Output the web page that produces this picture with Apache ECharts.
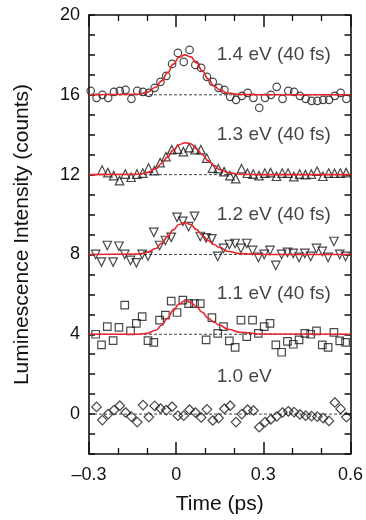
<!DOCTYPE html>
<html>
<head>
<meta charset="utf-8">
<script src="https://cdn.jsdelivr.net/npm/echarts@6/dist/echarts.min.js"></script>
<style>
html,body{margin:0;padding:0;background:#fff;}
#chart{width:366px;height:520px;}
</style>
</head>
<body>
<div id="chart"></div>
<script>
// ---- data ----
var time14 = [-0.294,-0.274,-0.254,-0.234,-0.214,-0.194,-0.174,-0.154,-0.134,-0.114,-0.094,-0.074,-0.054,-0.034,-0.014,0.006,0.026,0.046,0.066,0.086,0.106,0.126,0.146,0.166,0.186,0.206,0.226,0.246,0.266,0.286,0.306,0.326,0.346,0.366,0.386,0.406,0.426,0.446,0.466,0.486,0.506,0.526,0.546,0.566,0.586];
var lum14 = [16.2,15.85,16.0,15.85,16.15,16.2,16.25,15.8,16.2,16.15,16.1,16.35,16.65,16.95,17.55,18.1,17.65,18.25,17.5,17.35,16.9,16.65,16.35,16.25,15.9,15.75,15.95,16.1,15.85,15.35,15.85,16.0,16.4,15.8,16.2,16.15,15.95,15.8,15.7,15.7,15.75,15.75,15.95,16.1,15.8];

var time13 = [-0.255,-0.235,-0.215,-0.195,-0.175,-0.155,-0.135,-0.115,-0.095,-0.075,-0.055,-0.035,-0.015,0.005,0.025,0.045,0.065,0.085,0.105,0.125,0.145,0.165,0.185,0.205,0.225,0.245,0.265,0.285,0.305,0.325,0.345,0.365,0.385,0.405,0.425,0.445,0.465,0.485,0.505,0.525,0.545,0.565,0.585];
var lum13 = [12.23,12.1,11.95,11.7,12.03,11.87,12.03,12.08,12.33,12.2,12.6,12.9,13.25,13.28,13.15,13.35,13.25,13.25,12.83,12.33,12.3,12.15,11.95,11.8,12.3,12.07,12.03,11.95,12.08,12.1,11.92,12.08,12.08,11.9,12.03,12.0,12.03,12.17,11.92,12.08,12.07,12.08,12.1];

var time12 = [-0.277,-0.257,-0.237,-0.217,-0.197,-0.177,-0.157,-0.137,-0.117,-0.097,-0.077,-0.057,-0.037,-0.017,0.003,0.023,0.043,0.063,0.083,0.103,0.123,0.143,0.163,0.183,0.203,0.223,0.243,0.263,0.283,0.303,0.323,0.343,0.363,0.383,0.403,0.423,0.443,0.463,0.483,0.503,0.523,0.543,0.563,0.583];
var lum12 = [8.0,7.62,8.45,7.62,8.41,8.0,7.7,7.58,8.0,7.92,9.11,8.45,8.7,8.86,9.86,9.66,9.39,9.91,8.9,8.83,8.78,7.9,8.3,8.5,8.55,8.3,8.55,8.2,7.85,8.0,8.2,7.45,8.0,8.1,8.05,7.85,8.05,7.9,8.3,8.15,7.85,8.65,8.0,7.9];

var time11 = [-0.277,-0.257,-0.237,-0.217,-0.197,-0.177,-0.157,-0.137,-0.117,-0.097,-0.077,-0.057,-0.037,-0.017,0.003,0.023,0.043,0.063,0.083,0.103,0.123,0.143,0.163,0.183,0.203,0.223,0.243,0.263,0.283,0.303,0.323,0.343,0.363,0.383,0.403,0.423,0.443,0.463,0.483,0.503,0.523,0.543,0.563,0.583];
var lum11 = [4.0,3.47,4.38,3.68,4.35,5.46,4.17,4.55,4.88,3.68,3.59,4.71,4.96,5.66,5.09,5.71,5.54,5.54,5.54,3.72,4.83,4.05,4.38,3.67,3.34,4.71,3.88,4.71,4.05,4.38,4.55,3.47,3.1,3.64,3.5,3.72,4.05,4.0,4.17,3.47,3.34,4.1,3.67,3.59];

var time10 = [-0.274,-0.254,-0.234,-0.214,-0.194,-0.174,-0.154,-0.134,-0.114,-0.094,-0.074,-0.054,-0.034,-0.014,0.006,0.026,0.046,0.066,0.086,0.106,0.126,0.146,0.166,0.186,0.206,0.226,0.246,0.266,0.286,0.306,0.326,0.346,0.366,0.386,0.406,0.426,0.446,0.466,0.486,0.506,0.526,0.546,0.566,0.586];
var lum10 = [0.36,-0.3,0.0,0.2,0.42,0.08,-0.13,-0.4,0.45,-0.15,0.41,0.28,0.2,0.37,-0.08,-0.08,0.22,0.08,-0.17,0.24,-0.32,-0.2,0.27,0.42,-0.4,0.0,0.22,0.18,-0.66,-0.4,-0.26,-0.12,0.08,0.14,0.1,-0.02,-0.08,-0.1,-0.13,-0.2,-0.34,0.58,0.26,-0.15];

// fitted curves
var fitTime = [-0.3,-0.13,-0.1,-0.07,-0.05,-0.03,-0.01,0.01,0.03,0.05,0.07,0.09,0.11,0.13,0.15,0.18,0.22,0.3,0.6];
var fit14 = [16,16.03,16.12,16.38,16.7,17.1,17.54,17.88,18.0,17.9,17.6,17.2,16.8,16.45,16.25,16.08,16.02,16,16];
var fit13 = [12,12.02,12.1,12.3,12.56,12.88,13.23,13.5,13.6,13.55,13.3,13.0,12.7,12.45,12.25,12.1,12.02,12,12];
var fit12 = [8,8.02,8.1,8.3,8.56,8.88,9.23,9.5,9.6,9.5,9.25,8.95,8.7,8.5,8.35,8.15,8.04,8,8];
var fit11 = [4,4.0,4.05,4.2,4.45,4.8,5.2,5.52,5.68,5.6,5.38,5.1,4.8,4.6,4.45,4.25,4.1,4.01,4];

var baselines = [0, 4, 8, 12, 16];
var seriesNames = ['1.4 eV (40 fs)', '1.3 eV (40 fs)', '1.2 eV (40 fs)', '1.1 eV (40 fs)', '1.0 eV'];
var labelY = [18.0, 14.0, 10.0, 6.05, 1.85];
var labelX = 0.138;
var xTicks = [-0.3, 0, 0.3, 0.6];
var yTickLabels = [0, 4, 8, 12, 16, 20];

// ---- chart ----
function pairs(t, v) { return t.map(function (x, i) { return [x, v[i]]; }); }
var FONT = 'Liberation Sans, Arial, sans-serif';
var INK = '#111';

var markerStyle = { color: 'rgba(0,0,0,0)', borderColor: '#1a1a1a', borderWidth: 1.2 };
var series = [];

baselines.forEach(function (b) {
  series.push({
    type: 'line', data: [[xTicks[0], b], [xTicks[xTicks.length - 1], b]],
    symbol: 'none', silent: true, z: 1,
    lineStyle: { color: '#111', width: 0.8, type: [3, 2] }
  });
});

var marks = [
  { t: time14, v: lum14, sym: 'circle', size: 7.5, rot: 0 },
  { t: time13, v: lum13, sym: 'triangle', size: 8.5, rot: 0 },
  { t: time12, v: lum12, sym: 'triangle', size: 8.5, rot: 180 },
  { t: time11, v: lum11, sym: 'rect', size: 7.5, rot: 0 },
  { t: time10, v: lum10, sym: 'diamond', size: [9.5, 9.5], rot: 0 }
];
marks.forEach(function (m) {
  series.push({
    type: 'scatter', data: pairs(m.t, m.v), symbol: m.sym, symbolSize: m.size,
    symbolRotate: m.rot, itemStyle: markerStyle, z: 3, silent: true
  });
});

[fit14, fit13, fit12, fit11].forEach(function (f) {
  series.push({
    type: 'line', data: pairs(fitTime, f), symbol: 'none', smooth: 0.5,
    smoothMonotone: 'x', z: 4, silent: true,
    lineStyle: { color: '#e8262b', width: 1.6 }
  });
});

series.push({
  type: 'scatter', z: 5, silent: true, symbolSize: 1,
  itemStyle: { color: 'rgba(0,0,0,0)' },
  data: seriesNames.map(function (n, i) { return [labelX, labelY[i], n]; }),
  label: {
    show: true, position: 'right', distance: 0, align: 'left', verticalAlign: 'middle',
    fontSize: 19, fontFamily: FONT, color: INK,
    formatter: function (p) { return p.data[2]; }
  }
});

var axisLine = { show: true, onZero: false, lineStyle: { color: '#111', width: 1.6 } };
function xAx(pos, withLabels) {
  return {
    type: 'value', position: pos, min: xTicks[0], max: xTicks[xTicks.length - 1], interval: 0.3,
    axisLine: axisLine,
    axisTick: { show: true, inside: true, length: 12, lineStyle: { color: '#111', width: 1.5 } },
    minorTick: { show: true, splitNumber: 3, length: 6, lineStyle: { color: '#111', width: 1.3 } },
    splitLine: { show: false }, minorSplitLine: { show: false },
    axisLabel: {
      show: withLabels, fontSize: 18, fontFamily: FONT, color: INK, margin: 12,
      formatter: function (v) { return v < 0 ? '\u2013' + Math.abs(v) : String(v); }
    },
    name: withLabels ? 'Time (ps)' : '', nameLocation: 'middle', nameGap: 40,
    nameTextStyle: { fontSize: 21, fontFamily: FONT, color: INK }
  };
}
function yAx(pos, withLabels) {
  return {
    type: 'value', position: pos, min: -2, max: 20, interval: 1,
    axisLine: axisLine,
    axisTick: { show: true, inside: true, length: 6, lineStyle: { color: '#111', width: 1.5 } },
    splitLine: { show: false },
    axisLabel: {
      show: withLabels, fontSize: 18, fontFamily: FONT, color: INK, margin: 9,
      formatter: function (v) { return yTickLabels.indexOf(v) >= 0 ? String(v) : ''; }
    },
    name: withLabels ? 'Luminescence Intensity (counts)' : '', nameLocation: 'middle', nameGap: 56,
    nameTextStyle: { fontSize: 21, fontFamily: FONT, color: INK }
  };
}

var chart = echarts.init(document.getElementById('chart'), null, { renderer: 'canvas' });
chart.setOption({
  backgroundColor: '#fff',
  animation: false,
  grid: { left: 89, right: 13, top: 15, bottom: 63 },
  xAxis: [xAx('bottom', true), xAx('top', false)],
  yAxis: [yAx('left', true), yAx('right', false)],
  series: series
});
</script>
</body>
</html>
